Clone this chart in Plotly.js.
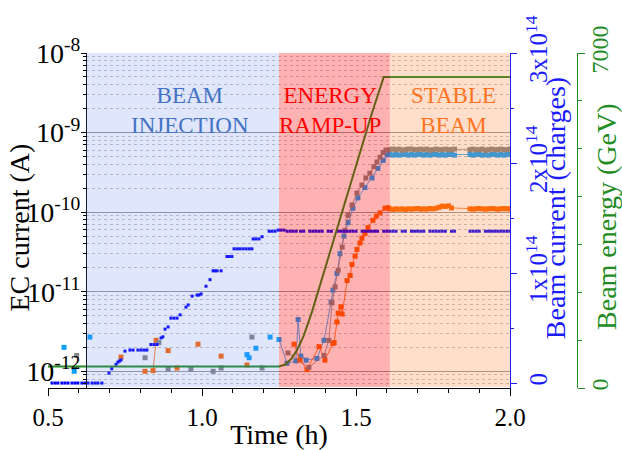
<!DOCTYPE html>
<html>
<head>
<meta charset="utf-8">
<script src="https://cdn.plot.ly/plotly-3.0.1.min.js"></script>
<style>html,body{margin:0;padding:0;background:#fff}#chart{width:622px;height:450px}</style>
</head>
<body>
<div id="chart"></div>
<script>
// ---------------- DATA ----------------
// EC current, series 1 (grey) : time (h) / current (A); null = gap
const ecGreyTime = [0.593,null,0.815,null,0.860,null,0.890,null,0.964,null,1.036,null,1.062,null,1.162,null,1.195,null,
  1.279,1.347,1.396,1.412,1.422,1.432,1.442,1.455,1.464,1.474,1.487,1.503,1.519,1.532,1.545,1.558,1.568,1.578,1.588,1.597,
  1.61,1.62,1.63,1.64,1.65,1.66,1.67,1.68,1.69,1.70,1.71,1.72,1.73,1.74,1.75,1.76,1.77,1.78,1.79,1.80,1.81,1.82,
  1.87,1.88,1.89,1.90,1.91,1.92,1.93,1.94,1.95,1.96,1.97,1.98,1.99,2.00];
const ecGreyA = [1.58e-12,null,1.48e-12,null,2.29e-12,null,1.07e-12,null,1.07e-12,null,1.0e-12,null,1.10e-12,null,2.69e-12,null,1.10e-12,null,
  1.70e-12,1.12e-12,1.58e-12,2.45e-12,7.24e-12,1.15e-11,1.86e-11,3.63e-11,5.89e-11,9.12e-11,1.23e-10,1.74e-10,2.19e-10,2.69e-10,3.09e-10,3.72e-10,4.27e-10,4.90e-10,5.62e-10,6.03e-10,
  6.1e-10,6.2e-10,6.1e-10,6.2e-10,6.0e-10,6.1e-10,6.2e-10,6.2e-10,6.1e-10,6.1e-10,6.2e-10,6.1e-10,6.2e-10,6.0e-10,6.1e-10,6.2e-10,6.1e-10,6.1e-10,6.2e-10,6.1e-10,6.1e-10,6.2e-10,
  6.1e-10,6.2e-10,6.1e-10,6.1e-10,6.2e-10,6.0e-10,6.1e-10,6.2e-10,6.1e-10,6.1e-10,6.2e-10,6.1e-10,6.1e-10,6.2e-10];

// EC current, series 2 (blue)
const ecBlueTime = [0.552,null,0.585,null,0.636,null,1.146,null,1.153,null,1.175,null,1.221,null,
  1.250,1.276,1.305,1.312,1.321,1.338,1.373,1.396,1.419,1.425,1.438,1.448,1.461,1.474,1.490,1.506,1.529,1.552,1.571,1.588,1.601,
  1.61,1.62,1.63,1.64,1.65,1.66,1.67,1.68,1.69,1.70,1.71,1.72,1.73,1.74,1.75,1.76,1.77,1.78,1.79,1.80,1.81,1.82,
  1.87,1.88,1.89,1.90,1.91,1.92,1.93,1.94,1.95,1.96,1.97,1.98,1.99,2.00];
const ecBlueA = [2.0e-12,null,1.0e-12,null,2.69e-12,null,1.62e-12,null,1.48e-12,null,1.95e-12,null,2.69e-12,null,
  2.51e-12,1.26e-12,1.35e-12,4.47e-12,1.55e-12,1.38e-12,1.45e-12,2.45e-12,7.41e-12,1.05e-11,1.7e-11,3.0e-11,5.0e-11,7.4e-11,1.12e-10,1.51e-10,2.04e-10,2.69e-10,3.55e-10,4.47e-10,5.25e-10,
  5.3e-10,5.2e-10,5.3e-10,5.2e-10,5.3e-10,5.3e-10,5.2e-10,5.3e-10,5.2e-10,5.3e-10,5.3e-10,5.2e-10,5.3e-10,5.2e-10,5.3e-10,5.3e-10,5.2e-10,5.3e-10,5.2e-10,5.3e-10,5.3e-10,5.2e-10,
  5.3e-10,5.2e-10,5.3e-10,5.3e-10,5.2e-10,5.3e-10,5.2e-10,5.3e-10,5.3e-10,5.2e-10,5.3e-10,5.2e-10,5.3e-10,5.3e-10];

// EC current, series 3 (orange)
const ecOrangeTime = [0.737,null,0.815,null,0.841,0.851,null,0.890,null,0.919,null,0.987,null,1.062,null,1.146,null,
  1.299,1.318,1.341,1.380,1.399,1.425,1.429,1.438,1.442,1.451,1.455,1.471,1.481,1.487,1.497,1.503,1.513,1.519,1.529,1.539,1.555,1.566,1.578,1.594,1.604,
  1.61,1.62,1.63,1.64,1.65,1.66,1.67,1.68,1.69,1.70,1.71,1.72,1.73,1.74,1.75,1.76,1.77,1.78,1.79,1.80,1.81,
  1.87,1.88,1.89,1.90,1.91,1.92,1.93,1.94,1.95,1.96,1.97,1.98,1.99,2.00];
const ecOrangeA = [1.51e-12,null,1.0e-12,null,1.02e-12,2.45e-12,null,1.82e-12,null,1.10e-12,null,2.19e-12,null,1.55e-12,null,1.20e-12,null,
  2.19e-12,1.38e-12,1.05e-12,2.04e-12,1.38e-12,2.24e-12,2.29e-12,4.17e-12,5.37e-12,6.46e-12,5.25e-12,1.38e-11,1.6e-11,2.2e-11,2.8e-11,3.4e-11,4.1e-11,4.7e-11,5.4e-11,6.4e-11,7.9e-11,8.9e-11,9.8e-11,1.12e-10,1.14e-10,
  1.10e-10,1.08e-10,1.10e-10,1.09e-10,1.10e-10,1.08e-10,1.10e-10,1.09e-10,1.10e-10,1.11e-10,1.09e-10,1.10e-10,1.09e-10,1.11e-10,1.10e-10,1.12e-10,1.15e-10,1.19e-10,1.18e-10,1.20e-10,1.13e-10,
  1.10e-10,1.09e-10,1.10e-10,1.11e-10,1.10e-10,1.09e-10,1.10e-10,1.11e-10,1.10e-10,1.09e-10,1.10e-10,1.11e-10,1.10e-10,1.10e-10];

// Beam current (units of 1e14 charges)
const beamTime = [0.513,0.523,0.532,0.545,0.555,0.565,0.578,0.588,0.597,0.610,0.620,0.630,0.643,0.653,0.662,0.675,
  0.698,0.707,0.721,0.727,0.732,0.737,0.750,0.766,0.776,0.792,0.802,0.812,0.821,0.834,0.844,0.854,0.867,0.873,0.880,0.890,
  0.899,0.909,0.919,0.929,0.948,0.955,0.968,0.984,0.990,0.997,1.013,1.026,1.036,1.042,1.049,1.062,1.081,1.088,1.097,
  1.104,1.114,1.123,1.133,1.143,1.153,1.162,1.166,1.175,1.185,1.195,1.218,1.227,1.237,1.247,1.256,1.266,
  1.276,1.286,1.296,1.306,1.32,1.33,1.35,1.36,1.37,1.38,1.39,1.41,1.42,1.44,1.45,1.46,1.47,1.48,1.49,1.50,
  1.52,1.53,1.54,1.55,1.56,1.57,1.59,1.60,1.61,1.62,1.63,1.65,1.66,1.68,1.69,1.70,1.71,1.72,1.74,1.75,1.76,
  1.77,1.78,1.79,1.81,1.82,1.87,1.88,1.89,1.90,1.92,1.93,1.94,1.95,1.96,1.97,1.98,1.99,2.00];
const beamCurrent1e14 = [0,0,0,0,0,0,0,0,0,0,0,0,0,0,0,0,
  0.09,0.13,0.17,0.19,0.20,0.21,0.29,0.30,0.30,0.30,0.30,0.30,0.30,0.35,0.35,0.35,0.41,0.42,0.49,0.51,
  0.59,0.59,0.59,0.62,0.69,0.71,0.79,0.80,0.80,0.81,0.88,0.94,1.02,1.02,1.02,1.02,1.15,1.15,1.15,
  1.22,1.22,1.22,1.22,1.22,1.22,1.22,1.31,1.31,1.31,1.33,1.38,1.38,1.38,1.39,1.39,1.39,
  1.38,1.38,1.38,1.38,1.38,1.38,1.38,1.38,1.38,1.38,1.38,1.38,1.38,1.38,1.38,1.38,1.38,1.38,1.38,1.38,
  1.38,1.38,1.38,1.38,1.38,1.38,1.38,1.38,1.38,1.38,1.38,1.38,1.38,1.38,1.38,1.38,1.38,1.38,1.38,1.38,1.38,
  1.38,1.38,1.38,1.38,1.38,1.38,1.38,1.38,1.38,1.38,1.38,1.38,1.38,1.38,1.38,1.38,1.38,1.38];

// Beam energy (GeV)
const energyTime = [0.50,1.25,1.27,1.29,1.31,1.33,1.357,1.40,1.45,1.50,1.55,1.59,2.00];
const energyGeV  = [450,450,490,610,810,1090,1590,2510,3580,4650,5710,6500,6500];

// Phases
const phaseNames = ['BEAM<br>INJECTION','ENERGY<br>RAMP-UP','STABLE<br>BEAM'];
const phaseStart = [0.623,1.25,1.61];
const phaseEnd   = [1.25,1.61,2.00];

// Tick labels
const xTickVals = [0.5,1.0,1.5,2.0];
const xTickText = ['0.5','1.0','1.5','2.0'];
const ecTickVals = [1e-12,1e-11,1e-10,1e-9,1e-8];
const ecTickText = ['10<sup>-12</sup>','10<sup>-11</sup>','10<sup>-10</sup>','10<sup>-9</sup>','10<sup>-8</sup>'];
const beamTickVals = [0,1,2,3];
const beamTickText = ['0','1x10<sup>14</sup>','2x10<sup>14</sup>','3x10<sup>14</sup>'];
const energyTickVals = [0,7000];
const energyTickText = ['0','7000'];

// ---------------- STYLE ----------------
const FONT = '"Liberation Serif", "Times New Roman", serif';
const BLUEAX = '#1a1aff';
const GREEN = '#228b22';
const phaseFill = ['rgb(100,130,235)','rgb(255,0,0)','rgb(255,120,40)'];
const phaseOpacity = [0.2,0.3,0.24];
const phaseText = ['#4472c4','#ff0000','#ff7320'];
const phaseLabelX = [0.961,1.416,1.815];
const EC_RANGE = [-12.21,-8];

function ecTrace(x,y,color){
  return {x:x,y:y,type:'scatter',mode:'lines+markers',xaxis:'x2',yaxis:'y2',connectgaps:false,
    marker:{symbol:'square',size:5,color:color,line:{width:0}},
    line:{color:color,width:0.8},hoverinfo:'skip',showlegend:false};
}

const data = [
  // empty trace for the grid-only subplot (drawn beneath everything)
  {x:[],y:[],type:'scatter',mode:'markers',xaxis:'x',yaxis:'y',hoverinfo:'skip',showlegend:false},
  ecTrace(ecBlueTime,ecBlueA,'#0aa0ff'),
  ecTrace(ecOrangeTime,ecOrangeA,'#ff6600'),
  ecTrace(ecGreyTime,ecGreyA,'#858585'),
  {x:beamTime,y:beamCurrent1e14,type:'scatter',mode:'markers',xaxis:'x2',yaxis:'y3',
   marker:{symbol:'square',size:3,color:'#0000ff',line:{width:0}},hoverinfo:'skip',showlegend:false},
  {x:energyTime,y:energyGeV,type:'scatter',mode:'lines',xaxis:'x2',yaxis:'y4',
   line:{color:GREEN,width:2},hoverinfo:'skip',showlegend:false}
];

const shapes = [];
for(let i=0;i<phaseNames.length;i++){
  shapes.push({type:'rect',xref:'x2',yref:'paper',x0:phaseStart[i],x1:phaseEnd[i],y0:0.003,y1:1,
    fillcolor:phaseFill[i],opacity:phaseOpacity[i],line:{width:0},layer:'above'});
}
const annotations = phaseNames.map((t,i)=>({text:t,xref:'x2',yref:'paper',x:phaseLabelX[i],y:0.827,
  xanchor:'center',yanchor:'middle',showarrow:false,font:{family:FONT,size:23,color:phaseText[i]}}));
// axis titles
annotations.push({text:'EC current (A)',xref:'paper',yref:'paper',x:-0.05,y:0.478,textangle:-90,
  xanchor:'center',yanchor:'middle',showarrow:false,font:{family:FONT,size:28,color:'#000'}});
annotations.push({text:'Beam current (charges)',xref:'paper',yref:'paper',x:0.8958,y:0.537,textangle:-90,
  xanchor:'center',yanchor:'middle',showarrow:false,font:{family:FONT,size:28,color:BLUEAX}});
annotations.push({text:'Beam energy (GeV)',xref:'paper',yref:'paper',x:0.9855,y:0.513,textangle:-90,
  xanchor:'center',yanchor:'middle',showarrow:false,font:{family:FONT,size:28,color:GREEN}});

const layout = {
  width:622,height:450,margin:{l:48,r:8,t:53,b:62},
  paper_bgcolor:'#ffffff',plot_bgcolor:'rgba(0,0,0,0)',showlegend:false,
  font:{family:FONT,color:'#000'},
  // grid-only helper axes (start at the left y axis)
  xaxis:{domain:[0.0671,0.8163],range:[phaseStart[0],2.0],anchor:'y',showgrid:false,zeroline:false,
    showline:false,ticks:'',showticklabels:false},
  yaxis:{type:'log',domain:[0,1],range:EC_RANGE,anchor:'x',showline:false,ticks:'',showticklabels:false,zeroline:false,
    tickmode:'array',tickvals:ecTickVals,showgrid:true,gridcolor:'#9a9a9a',gridwidth:1,
    minor:{dtick:'D1',ticks:'',showgrid:true,gridcolor:'#c4c4c4',griddash:'dot',gridwidth:1}},
  // real axes
  xaxis2:{domain:[0,0.8163],range:[0.5,2.0],anchor:'y2',tickmode:'array',tickvals:xTickVals,ticktext:xTickText,
    ticks:'outside',ticklen:7,tickcolor:'#000',showline:true,linecolor:'#000',linewidth:1,
    showgrid:false,zeroline:false,tickfont:{size:25,family:FONT},
    minor:{tick0:0.5,dtick:0.1,ticks:'outside',ticklen:4,tickcolor:'#000',showgrid:false},
    title:{text:'Time (h)',font:{size:28,family:FONT},standoff:2}},
  yaxis2:{type:'log',domain:[0,1],range:EC_RANGE,anchor:'free',position:0.0671,side:'left',
    tickmode:'array',tickvals:ecTickVals,ticktext:ecTickText,ticks:'outside',ticklen:5,tickcolor:'#000',
    showline:true,linecolor:'#000',linewidth:1,zeroline:false,showgrid:false,ticklabelstandoff:-5,
    minor:{dtick:'D1',ticks:'outside',ticklen:3,tickcolor:'#000',showgrid:false},
    tickfont:{size:28,family:FONT}},
  yaxis3:{overlaying:'y2',side:'right',anchor:'x2',range:[-0.045,3.0],tickmode:'array',
    tickvals:beamTickVals,ticktext:beamTickText,tickangle:-90,ticks:'outside',ticklen:6,tickcolor:BLUEAX,
    showline:true,linecolor:BLUEAX,linewidth:1,showgrid:false,zeroline:false,
    minor:{dtick:0.5,ticks:'outside',ticklen:3,tickcolor:BLUEAX,showgrid:false},
    tickfont:{size:25,color:BLUEAX,family:FONT}},
  yaxis4:{overlaying:'y2',side:'right',anchor:'free',position:0.9346,range:[0,7000],tickmode:'array',
    tickvals:energyTickVals,ticktext:energyTickText,tickangle:-90,ticks:'outside',ticklen:7,tickcolor:GREEN,
    showline:true,linecolor:GREEN,linewidth:1,showgrid:false,zeroline:false,ticklabelstandoff:-6,
    minor:{dtick:1000,ticks:'outside',ticklen:4,tickcolor:GREEN,showgrid:false},
    tickfont:{size:24,color:GREEN,family:FONT}},
  shapes:shapes,annotations:annotations
};

Plotly.newPlot('chart',data,layout,{staticPlot:true,displayModeBar:false});
</script>
</body>
</html>
